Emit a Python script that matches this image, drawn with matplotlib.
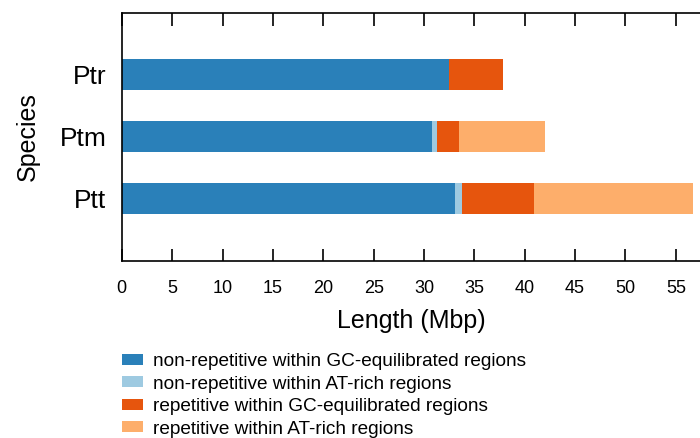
import matplotlib
matplotlib.use("Agg")
import matplotlib.pyplot as plt
import numpy as np

plt.rcParams['font.family'] = ['Liberation Sans', 'DejaVu Sans']

species = ["Ptt", "Ptm", "Ptr"]
nonrep_gc = [33.1, 30.75, 32.5]
nonrep_at = [0.7, 0.55, 0.0]
rep_gc = [7.1, 2.15, 5.35]
rep_at = [15.8, 8.55, 0.0]

labels = ["non-repetitive within GC-equilibrated regions",
          "non-repetitive within AT-rich regions",
          "repetitive within GC-equilibrated regions",
          "repetitive within AT-rich regions"]
colors = ["#2a80b9", "#9ecae1", "#e6550d", "#fdae6b"]

fig = plt.figure(figsize=(7, 4.38), dpi=100)
ax = fig.add_axes([0.174, 0.404, 0.826, 0.567])

y = np.arange(len(species))
left = np.zeros(len(species))
for vals, col, lab in zip([nonrep_gc, nonrep_at, rep_gc, rep_at], colors, labels):
    ax.barh(y, vals, left=left, height=0.5, color=col, label=lab)
    left += np.array(vals)

ax.set_xlim(0, 57.4)
ax.set_ylim(-1, 3)
ax.set_yticks(y)
ax.set_yticklabels(species, fontsize=19)
ax.set_xticks(np.arange(0, 56, 5))
ax.tick_params(axis='x', direction='in', top=True, length=9, width=1.2, labelsize=13, pad=14)
ax.tick_params(axis='y', length=0, pad=11)
ax.spines['right'].set_visible(False)
for s in ['left', 'bottom', 'top']:
    ax.spines[s].set_linewidth(1.2)
ax.set_xlabel("Length (Mbp)", fontsize=18, labelpad=8)
ax.set_ylabel("Species", fontsize=18, labelpad=14)

fig.legend(loc='upper left', bbox_to_anchor=(0.174, 0.194), frameon=False,
           fontsize=13.7, handlelength=1.13, handleheight=0.5, labelspacing=0.29,
           handletextpad=0.53, borderaxespad=0, borderpad=0)

fig.savefig("out.png", dpi=100)
